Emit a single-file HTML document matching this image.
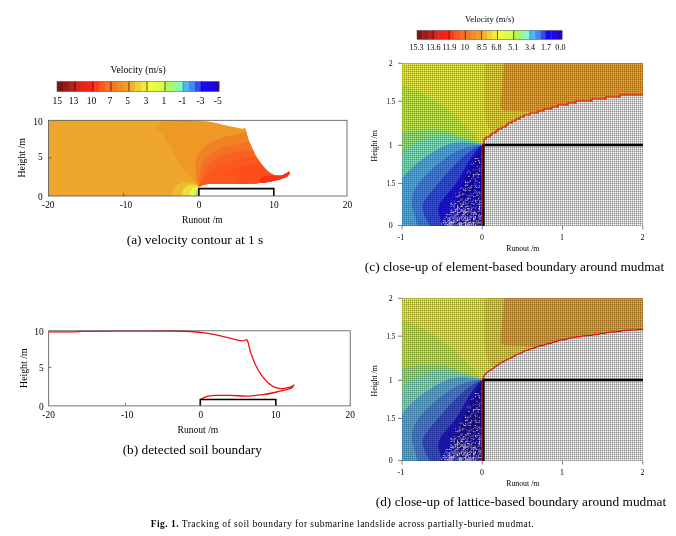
<!DOCTYPE html>
<html><head><meta charset="utf-8"><title>Fig. 1</title>
<style>
html,body{margin:0;padding:0;background:#fff;}
body{width:676px;height:536px;overflow:hidden;position:relative;}
svg{position:absolute;left:0;top:0;display:block;}
svg text{font-family:"Liberation Serif","Times New Roman",serif;fill:#000;}
</style></head><body>
<svg width="676" height="536" viewBox="0 0 676 536">
<defs>
<pattern id="grid" x="402" y="63" width="2" height="2" patternUnits="userSpaceOnUse">
<rect x="0" y="0" width="1" height="1" fill="#000" fill-opacity="0.41"/>
<rect x="1" y="0" width="1" height="1" fill="#000" fill-opacity="0.25"/>
<rect x="0" y="1" width="1" height="1" fill="#000" fill-opacity="0.25"/>
</pattern>
<pattern id="gridc" x="402" y="63" width="2" height="2" patternUnits="userSpaceOnUse">
<rect x="0" y="0" width="1" height="1" fill="#000" fill-opacity="0.35"/>
<rect x="1" y="0" width="1" height="1" fill="#000" fill-opacity="0.205"/>
<rect x="0" y="1" width="1" height="1" fill="#000" fill-opacity="0.205"/>
</pattern>
<clipPath id="clipA"><rect x="48.5" y="120.3" width="298.5" height="75.7"/></clipPath>
<clipPath id="clipC"><rect x="402" y="63" width="241" height="163"/></clipPath>
</defs>
<rect width="676" height="536" fill="#fff"/>

<g id="panelA">
<rect x="57.00" y="81.5" width="6.30" height="10.0" fill="#7e1414"/>
<rect x="63.00" y="81.5" width="6.30" height="10.0" fill="#9a1a14"/>
<rect x="69.00" y="81.5" width="6.30" height="10.0" fill="#b82018"/>
<rect x="75.00" y="81.5" width="6.30" height="10.0" fill="#d8241a"/>
<rect x="81.00" y="81.5" width="6.30" height="10.0" fill="#ec2216"/>
<rect x="87.00" y="81.5" width="6.30" height="10.0" fill="#fc2010"/>
<rect x="93.00" y="81.5" width="6.30" height="10.0" fill="#fc3c18"/>
<rect x="99.00" y="81.5" width="6.30" height="10.0" fill="#fc5a1c"/>
<rect x="105.00" y="81.5" width="6.30" height="10.0" fill="#f87020"/>
<rect x="111.00" y="81.5" width="6.30" height="10.0" fill="#f47a22"/>
<rect x="117.00" y="81.5" width="6.30" height="10.0" fill="#f48c26"/>
<rect x="123.00" y="81.5" width="6.30" height="10.0" fill="#f09c28"/>
<rect x="129.00" y="81.5" width="6.30" height="10.0" fill="#f0b030"/>
<rect x="135.00" y="81.5" width="6.30" height="10.0" fill="#f0d038"/>
<rect x="141.00" y="81.5" width="6.30" height="10.0" fill="#f4e83c"/>
<rect x="147.00" y="81.5" width="6.30" height="10.0" fill="#f4fc3c"/>
<rect x="153.00" y="81.5" width="6.30" height="10.0" fill="#e0fc40"/>
<rect x="159.00" y="81.5" width="6.30" height="10.0" fill="#d4fc48"/>
<rect x="165.00" y="81.5" width="6.30" height="10.0" fill="#b4f858"/>
<rect x="171.00" y="81.5" width="6.30" height="10.0" fill="#98f888"/>
<rect x="177.00" y="81.5" width="6.30" height="10.0" fill="#80fcc8"/>
<rect x="183.00" y="81.5" width="6.30" height="10.0" fill="#50b4f8"/>
<rect x="189.00" y="81.5" width="6.30" height="10.0" fill="#4488f8"/>
<rect x="195.00" y="81.5" width="6.30" height="10.0" fill="#3448f4"/>
<rect x="201.00" y="81.5" width="6.30" height="10.0" fill="#1808f8"/>
<rect x="207.00" y="81.5" width="6.30" height="10.0" fill="#1c04f0"/>
<rect x="213.00" y="81.5" width="6.30" height="10.0" fill="#1c08b8"/>
<line x1="75.00" y1="81.5" x2="75.00" y2="91.5" stroke="#000" stroke-width="0.7" opacity="0.9"/>
<line x1="93.00" y1="81.5" x2="93.00" y2="91.5" stroke="#000" stroke-width="0.7" opacity="0.9"/>
<line x1="111.00" y1="81.5" x2="111.00" y2="91.5" stroke="#000" stroke-width="0.7" opacity="0.9"/>
<line x1="129.00" y1="81.5" x2="129.00" y2="91.5" stroke="#000" stroke-width="0.7" opacity="0.9"/>
<line x1="147.00" y1="81.5" x2="147.00" y2="91.5" stroke="#000" stroke-width="0.7" opacity="0.9"/>
<line x1="165.00" y1="81.5" x2="165.00" y2="91.5" stroke="#000" stroke-width="0.7" opacity="0.9"/>
<line x1="183.00" y1="81.5" x2="183.00" y2="91.5" stroke="#000" stroke-width="0.7" opacity="0.4"/>
<line x1="201.00" y1="81.5" x2="201.00" y2="91.5" stroke="#000" stroke-width="0.7" opacity="0.4"/>
<rect x="57" y="81.5" width="162" height="10.0" fill="none" stroke="#444" stroke-width="0.5"/>
<text x="57.20" y="103.9" font-size="9.6" text-anchor="middle">15</text>
<text x="73.60" y="103.9" font-size="9.6" text-anchor="middle">13</text>
<text x="91.60" y="103.9" font-size="9.6" text-anchor="middle">10</text>
<text x="109.80" y="103.9" font-size="9.6" text-anchor="middle">7</text>
<text x="127.70" y="103.9" font-size="9.6" text-anchor="middle">5</text>
<text x="145.80" y="103.9" font-size="9.6" text-anchor="middle">3</text>
<text x="164.00" y="103.9" font-size="9.6" text-anchor="middle">1</text>
<text x="182.40" y="103.9" font-size="9.6" text-anchor="middle">-1</text>
<text x="200.50" y="103.9" font-size="9.6" text-anchor="middle">-3</text>
<text x="217.80" y="103.9" font-size="9.6" text-anchor="middle">-5</text>
<text x="138.2" y="72.5" font-size="9.7" text-anchor="middle">Velocity (m/s)</text>
<g clip-path="url(#clipA)">
<path d="M48.5,120.3 L150,120.35 C154.2,120.4 167.5,120.3 175.0,120.4 C182.5,120.5 189.3,120.5 195.0,120.7 C200.7,120.9 204.8,121.2 209.0,121.8 C213.2,122.4 216.7,123.5 220.0,124.2 C223.3,124.9 226.0,125.6 228.8,126.2 C231.6,126.8 234.3,127.3 236.6,127.8 C238.9,128.3 241.8,128.8 242.8,129.0 L244.7,127.7 C244.9,128.3 245.6,129.3 246.2,131.2 C246.8,133.1 247.2,136.2 248.2,139.0 C249.2,141.8 250.7,145.2 252.1,148.3 C253.5,151.4 255.0,154.6 256.8,157.6 C258.6,160.6 260.9,163.7 263.0,166.2 C265.1,168.7 267.1,170.9 269.2,172.4 C271.3,173.9 273.3,174.9 275.4,175.4 C277.5,175.9 279.7,175.8 281.6,175.4 C283.6,175.0 285.9,173.5 287.1,172.8 C288.3,172.2 288.7,171.7 289.0,171.5 L289.6,173.6 C289.1,174.2 288.4,175.9 286.3,177.0 C284.2,178.1 280.6,179.2 277.0,180.1 C273.4,181.0 269.3,181.9 264.6,182.5 C259.9,183.1 255.0,183.5 249.0,183.7 C243.0,183.9 234.8,183.8 228.8,183.8 C222.9,183.8 217.4,183.6 213.3,183.8 C209.2,184.0 206.4,184.2 204.0,184.8 C201.6,185.4 199.7,186.9 198.8,187.3 L198.8,196 L48.5,196 Z" fill="#eea62c"/>
<clipPath id="soilclip"><path d="M48.5,120.3 L150,120.35 C154.2,120.4 167.5,120.3 175.0,120.4 C182.5,120.5 189.3,120.5 195.0,120.7 C200.7,120.9 204.8,121.2 209.0,121.8 C213.2,122.4 216.7,123.5 220.0,124.2 C223.3,124.9 226.0,125.6 228.8,126.2 C231.6,126.8 234.3,127.3 236.6,127.8 C238.9,128.3 241.8,128.8 242.8,129.0 L244.7,127.7 C244.9,128.3 245.6,129.3 246.2,131.2 C246.8,133.1 247.2,136.2 248.2,139.0 C249.2,141.8 250.7,145.2 252.1,148.3 C253.5,151.4 255.0,154.6 256.8,157.6 C258.6,160.6 260.9,163.7 263.0,166.2 C265.1,168.7 267.1,170.9 269.2,172.4 C271.3,173.9 273.3,174.9 275.4,175.4 C277.5,175.9 279.7,175.8 281.6,175.4 C283.6,175.0 285.9,173.5 287.1,172.8 C288.3,172.2 288.7,171.7 289.0,171.5 L289.6,173.6 C289.1,174.2 288.4,175.9 286.3,177.0 C284.2,178.1 280.6,179.2 277.0,180.1 C273.4,181.0 269.3,181.9 264.6,182.5 C259.9,183.1 255.0,183.5 249.0,183.7 C243.0,183.9 234.8,183.8 228.8,183.8 C222.9,183.8 217.4,183.6 213.3,183.8 C209.2,184.0 206.4,184.2 204.0,184.8 C201.6,185.4 199.7,186.9 198.8,187.3 L198.8,196 L48.5,196 Z"/></clipPath>
<g clip-path="url(#soilclip)">
<path d="M159.8,119 L160.6,125.3 L155.5,128 L163.8,135.6 L166.1,141.9 L171.7,146.7 L173.3,153 L178,161 L182.8,168.9 L190.7,176.8 L198.6,187 L300,190 L300,110 Z" fill="#ee9826"/>
<path d="M198.6,187.0 C198.2,185.2 196.7,180.2 196.2,176.3 C195.7,172.4 194.9,167.7 195.4,163.8 C195.9,159.9 197.1,156.4 199.3,153.0 C201.5,149.6 205.0,146.1 208.6,143.6 C212.2,141.1 216.4,139.8 221.1,138.2 C225.8,136.6 232.5,135.3 236.6,134.3 C240.7,133.3 242.0,132.9 245.9,132.0 C249.8,131.1 257.6,129.5 260.0,129.0 L300,129 L300,190 Z" fill="#f08224"/>
<path d="M198.8,187.0 C198.9,185.2 198.7,180.2 199.3,176.3 C199.9,172.4 200.6,167.4 202.4,163.8 C204.2,160.2 207.1,157.1 210.2,154.5 C213.3,151.9 216.7,150.0 221.1,148.3 C225.5,146.6 231.9,145.4 236.6,144.4 C241.2,143.4 244.3,142.7 249.0,142.1 C253.7,141.5 262.3,141.2 265.0,141.0 L300,141 L300,190 Z" fill="#f47022"/>
<path d="M199.0,187.0 C199.4,185.5 200.2,181.2 201.6,177.8 C202.9,174.5 204.6,170.0 207.1,166.9 C209.6,163.8 212.8,161.4 216.4,159.2 C220.0,157.0 224.7,155.0 228.8,153.7 C233.0,152.4 237.3,151.9 241.3,151.4 C245.3,150.9 248.1,150.7 252.9,150.6 C257.7,150.5 267.1,150.9 270.0,151.0 L300,151 L300,190 Z" fill="#f8621e"/>
<path d="M199.2,187.0 C200.0,185.7 202.2,182.0 204.0,179.4 C205.8,176.8 207.3,173.9 210.2,171.6 C213.0,169.3 216.7,167.3 221.1,165.4 C225.5,163.5 231.9,161.3 236.6,160.0 C241.2,158.7 245.6,157.9 249.0,157.6 C252.4,157.3 253.3,158.0 256.8,158.4 C260.3,158.8 267.8,159.7 270.0,160.0 L300,160 L300,190 Z" fill="#fa581c"/>
<path d="M221.1,175.5 C223.7,174.3 231.4,170.4 236.6,168.5 C241.8,166.6 248.1,164.5 252.1,163.8 C256.1,163.2 256.9,163.9 260.7,164.6 C264.5,165.3 272.6,167.4 275.0,168.0 L300,168 L300,190 L236.6,190 L236.6,177 Z" fill="#fc4e1a"/>
<path d="M259.9,179.2 C260.4,178.8 261.7,177.4 263.0,176.8 C264.3,176.2 265.5,175.9 267.7,175.6 C269.9,175.3 272.4,175.8 276.0,175.0 C279.6,174.2 286.8,171.7 289.0,171.0 L292,176 L270,183 L259.9,183 Z" fill="#fc3016"/>
<path d="M171.5,196 C171.5,187 180,181.5 188,182 C193,182.5 197,184 198.8,186.5 L198.8,196 Z" fill="#ecbc30"/>
<path d="M181.5,196 C181.5,189 187,184.5 192,184.8 C195.5,185 198,186 198.8,187 L198.8,196 Z" fill="#f0dc38"/>
<path d="M189.5,196 C189.5,190.5 193,186.5 196,186.6 L198.8,187.5 L198.8,196 Z" fill="#f0f83c"/>
<path d="M194.3,196 C194.3,191.5 196,188 198.8,187.8 L198.8,196 Z" fill="#b8f060"/>
<path d="M196.6,196 C196.6,192 197.6,189 198.8,188.6 L198.8,196 Z" fill="#70d8c8"/>
</g></g>
<path d="M198.9,196 L198.9,188.6 L273.8,188.6 L273.8,196" fill="none" stroke="#000" stroke-width="1.55"/>
<rect x="48.5" y="120.3" width="298.5" height="75.7" fill="none" stroke="#505050" stroke-width="0.8"/>
<line x1="123.6" y1="196" x2="123.6" y2="193.2" stroke="#333" stroke-width="0.7"/>
<line x1="198.8" y1="196" x2="198.8" y2="193.2" stroke="#333" stroke-width="0.7"/>
<line x1="273.7" y1="196" x2="273.7" y2="193.2" stroke="#333" stroke-width="0.7"/>
<line x1="48.5" y1="157.8" x2="51.3" y2="157.8" stroke="#333" stroke-width="0.7"/>
<text x="48.3" y="208.2" font-size="9.4" text-anchor="middle">-20</text>
<text x="126" y="208.2" font-size="9.4" text-anchor="middle">-10</text>
<text x="199.1" y="208.2" font-size="9.4" text-anchor="middle">0</text>
<text x="274" y="208.2" font-size="9.4" text-anchor="middle">10</text>
<text x="347.5" y="208.2" font-size="9.4" text-anchor="middle">20</text>
<text x="42.6" y="125.2" font-size="9.4" text-anchor="end">10</text>
<text x="42.6" y="160.2" font-size="9.4" text-anchor="end">5</text>
<text x="42.6" y="199.7" font-size="9.4" text-anchor="end">0</text>
<text transform="translate(25.2,157.8) rotate(-90)" font-size="9.8" text-anchor="middle">Height /m</text>
<text x="202.4" y="222.6" font-size="9.6" text-anchor="middle">Runout /m</text>
<text x="195" y="244.1" font-size="13.34" text-anchor="middle">(a) velocity contour at 1 s</text>
</g>
<g id="panelB">
<path d="M48.7,331.9 C52.9,331.9 68.5,331.9 74.0,331.8 C79.5,331.7 74.3,331.4 82.0,331.3 C89.7,331.2 105.3,331.2 120.0,331.1 C134.7,331.1 158.3,330.9 170.0,331.0 C181.7,331.1 183.9,331.1 190.0,331.5 C196.1,331.9 200.9,332.3 206.3,333.1 C211.7,333.9 217.6,335.3 222.5,336.4 C227.4,337.5 232.3,338.9 235.6,339.6 C238.9,340.4 240.2,340.9 242.1,340.9 C244.0,340.9 246.0,339.9 246.8,339.7 L248.3,342.9 C248.6,344.2 249.1,347.5 250.2,351.0 C251.3,354.5 253.2,360.0 255.1,364.1 C257.0,368.2 259.4,372.3 261.6,375.4 C263.8,378.5 265.9,380.8 268.1,382.8 C270.3,384.8 272.4,386.2 274.6,387.2 C276.8,388.2 278.9,388.5 281.1,388.6 C283.3,388.7 285.7,388.1 287.6,387.7 C289.5,387.3 291.3,386.8 292.3,386.3 C293.3,385.9 293.8,384.9 293.8,385.0 C293.9,385.1 293.4,386.4 292.6,387.0 C291.9,387.6 290.9,388.3 289.3,388.9 C287.7,389.5 285.2,389.9 282.8,390.5 C280.4,391.1 277.9,391.8 274.6,392.5 C271.3,393.2 267.8,394.0 263.2,394.6 C258.6,395.2 252.4,396.0 247.0,396.1 C241.6,396.2 236.1,395.5 230.7,395.4 C225.3,395.3 218.5,395.2 214.4,395.4 C210.3,395.6 208.5,396.0 206.3,396.6 C204.1,397.2 202.0,398.8 201.2,399.2" fill="none" stroke="#f01010" stroke-width="1.3" stroke-linejoin="round"/>
<path d="M200.3,405.8 L200.3,399.5 L275.8,399.5 L275.8,405.8" fill="none" stroke="#000" stroke-width="1.6"/>
<rect x="48.7" y="330.8" width="301.5" height="75.1" fill="none" stroke="#505050" stroke-width="0.8"/>
<line x1="125.4" y1="405.8" x2="125.4" y2="403" stroke="#333" stroke-width="0.7"/>
<line x1="200.3" y1="405.8" x2="200.3" y2="403" stroke="#333" stroke-width="0.7"/>
<line x1="275.8" y1="405.8" x2="275.8" y2="403" stroke="#333" stroke-width="0.7"/>
<line x1="48.7" y1="367.3" x2="51.5" y2="367.3" stroke="#333" stroke-width="0.7"/>
<text x="48.6" y="417.8" font-size="9.4" text-anchor="middle">-20</text>
<text x="127.2" y="417.8" font-size="9.4" text-anchor="middle">-10</text>
<text x="200.9" y="417.8" font-size="9.4" text-anchor="middle">0</text>
<text x="275.7" y="417.8" font-size="9.4" text-anchor="middle">10</text>
<text x="350.3" y="417.8" font-size="9.4" text-anchor="middle">20</text>
<text x="43.6" y="334.7" font-size="9.4" text-anchor="end">10</text>
<text x="43.6" y="370.5" font-size="9.4" text-anchor="end">5</text>
<text x="43.6" y="409.6" font-size="9.4" text-anchor="end">0</text>
<text transform="translate(26.5,368.2) rotate(-90)" font-size="9.8" text-anchor="middle">Height /m</text>
<text x="197.9" y="433.1" font-size="9.6" text-anchor="middle">Runout /m</text>
<text x="192.3" y="454.4" font-size="13.3" text-anchor="middle">(b) detected soil boundary</text>
</g>
<rect x="417.00" y="30.5" width="5.67" height="8.899999999999999" fill="#7e1414"/>
<rect x="422.37" y="30.5" width="5.67" height="8.899999999999999" fill="#9a1a14"/>
<rect x="427.74" y="30.5" width="5.67" height="8.899999999999999" fill="#b82018"/>
<rect x="433.11" y="30.5" width="5.67" height="8.899999999999999" fill="#d8241a"/>
<rect x="438.48" y="30.5" width="5.67" height="8.899999999999999" fill="#ec2216"/>
<rect x="443.85" y="30.5" width="5.67" height="8.899999999999999" fill="#fc2010"/>
<rect x="449.22" y="30.5" width="5.67" height="8.899999999999999" fill="#fc3c18"/>
<rect x="454.59" y="30.5" width="5.67" height="8.899999999999999" fill="#fc5a1c"/>
<rect x="459.96" y="30.5" width="5.67" height="8.899999999999999" fill="#f87020"/>
<rect x="465.33" y="30.5" width="5.67" height="8.899999999999999" fill="#f47a22"/>
<rect x="470.70" y="30.5" width="5.67" height="8.899999999999999" fill="#f48c26"/>
<rect x="476.07" y="30.5" width="5.67" height="8.899999999999999" fill="#f09c28"/>
<rect x="481.44" y="30.5" width="5.67" height="8.899999999999999" fill="#f0b030"/>
<rect x="486.81" y="30.5" width="5.67" height="8.899999999999999" fill="#f0d038"/>
<rect x="492.19" y="30.5" width="5.67" height="8.899999999999999" fill="#f4e83c"/>
<rect x="497.56" y="30.5" width="5.67" height="8.899999999999999" fill="#f4fc3c"/>
<rect x="502.93" y="30.5" width="5.67" height="8.899999999999999" fill="#e0fc40"/>
<rect x="508.30" y="30.5" width="5.67" height="8.899999999999999" fill="#d4fc48"/>
<rect x="513.67" y="30.5" width="5.67" height="8.899999999999999" fill="#b4f858"/>
<rect x="519.04" y="30.5" width="5.67" height="8.899999999999999" fill="#98f888"/>
<rect x="524.41" y="30.5" width="5.67" height="8.899999999999999" fill="#80fcc8"/>
<rect x="529.78" y="30.5" width="5.67" height="8.899999999999999" fill="#50b4f8"/>
<rect x="535.15" y="30.5" width="5.67" height="8.899999999999999" fill="#4488f8"/>
<rect x="540.52" y="30.5" width="5.67" height="8.899999999999999" fill="#3448f4"/>
<rect x="545.89" y="30.5" width="5.67" height="8.899999999999999" fill="#1808f8"/>
<rect x="551.26" y="30.5" width="5.67" height="8.899999999999999" fill="#1c04f0"/>
<rect x="556.63" y="30.5" width="5.67" height="8.899999999999999" fill="#1c08b8"/>
<line x1="433.11" y1="30.5" x2="433.11" y2="39.4" stroke="#000" stroke-width="0.7" opacity="0.9"/>
<line x1="449.22" y1="30.5" x2="449.22" y2="39.4" stroke="#000" stroke-width="0.7" opacity="0.9"/>
<line x1="465.33" y1="30.5" x2="465.33" y2="39.4" stroke="#000" stroke-width="0.7" opacity="0.9"/>
<line x1="481.44" y1="30.5" x2="481.44" y2="39.4" stroke="#000" stroke-width="0.7" opacity="0.9"/>
<line x1="497.56" y1="30.5" x2="497.56" y2="39.4" stroke="#000" stroke-width="0.7" opacity="0.9"/>
<line x1="513.67" y1="30.5" x2="513.67" y2="39.4" stroke="#000" stroke-width="0.7" opacity="0.9"/>
<line x1="529.78" y1="30.5" x2="529.78" y2="39.4" stroke="#000" stroke-width="0.7" opacity="0.4"/>
<line x1="545.89" y1="30.5" x2="545.89" y2="39.4" stroke="#000" stroke-width="0.7" opacity="0.4"/>
<rect x="417" y="30.5" width="145" height="8.899999999999999" fill="none" stroke="#444" stroke-width="0.5"/>
<text x="416.60" y="50" font-size="8.9" text-anchor="middle" textLength="14.11" lengthAdjust="spacingAndGlyphs">15.3</text>
<text x="433.40" y="50" font-size="8.9" text-anchor="middle" textLength="14.11" lengthAdjust="spacingAndGlyphs">13.6</text>
<text x="449.30" y="50" font-size="8.9" text-anchor="middle" textLength="14.11" lengthAdjust="spacingAndGlyphs">11.9</text>
<text x="464.90" y="50" font-size="8.9" text-anchor="middle" textLength="8.06" lengthAdjust="spacingAndGlyphs">10</text>
<text x="482.00" y="50" font-size="8.9" text-anchor="middle" textLength="10.08" lengthAdjust="spacingAndGlyphs">8.5</text>
<text x="496.60" y="50" font-size="8.9" text-anchor="middle" textLength="10.08" lengthAdjust="spacingAndGlyphs">6.8</text>
<text x="513.40" y="50" font-size="8.9" text-anchor="middle" textLength="10.08" lengthAdjust="spacingAndGlyphs">5.1</text>
<text x="530.00" y="50" font-size="8.9" text-anchor="middle" textLength="10.08" lengthAdjust="spacingAndGlyphs">3.4</text>
<text x="546.10" y="50" font-size="8.9" text-anchor="middle" textLength="10.08" lengthAdjust="spacingAndGlyphs">1.7</text>
<text x="560.40" y="50" font-size="8.9" text-anchor="middle" textLength="10.08" lengthAdjust="spacingAndGlyphs">0.0</text>
<text x="489.6" y="22" font-size="8.65" text-anchor="middle">Velocity (m/s)</text>
<g id="pc" transform="translate(0,0)">
<clipPath id="regpc"><path d="M482.5,145.0 L484.0,145.0 L484.0,139.0 L486.0,139.0 L486.0,137.0 L490.0,137.0 L490.0,135.0 L492.0,135.0 L492.0,133.0 L496.0,133.0 L496.0,131.0 L498.0,131.0 L498.0,129.0 L502.0,129.0 L502.0,127.0 L506.0,127.0 L506.0,125.0 L508.0,125.0 L508.0,123.0 L512.0,123.0 L512.0,121.0 L516.0,121.0 L516.0,119.0 L520.0,119.0 L520.0,117.0 L524.0,117.0 L524.0,115.0 L530.0,115.0 L530.0,113.0 L538.0,113.0 L538.0,111.0 L544.0,111.0 L544.0,109.0 L552.0,109.0 L552.0,107.0 L558.0,107.0 L558.0,105.0 L568.0,105.0 L568.0,103.0 L576.0,103.0 L576.0,101.0 L592.0,101.0 L592.0,99.0 L606.0,99.0 L606.0,97.0 L620.0,97.0 L620.0,95.0 L643.0,95.0 L643,63 L402,63 L402,226 L482.5,226 Z"/></clipPath>
<g clip-path="url(#clipC)">
<rect x="402" y="63" width="241" height="163" fill="url(#grid)"/>
<g clip-path="url(#regpc)">
<rect x="402" y="63" width="241" height="163" fill="#f5aa2e"/>
<path d="M402,63 L503.8,63 L502,90 L500.4,106 Q500.6,110 506,110.5 L545,112 L545,150 L402,150 Z" fill="#f0dc34"/>
<path d="M402,63 L485,63 L484.6,100 Q484.5,118 487,124 Q490,131 497,134 L482.6,146 L402,146 Z" fill="#f4f838"/>
<path d="M402.0,85.4 C406.3,87.2 419.2,91.8 427.7,96.5 C436.2,101.2 445.7,107.8 453.1,113.9 C460.5,120.0 467.2,127.8 472.1,133.0 C477.0,138.2 480.9,143.0 482.6,145.0 L482.6,226 L402,226 L402,85.4 Z" fill="#ccf844" stroke="#ccf844" stroke-width="0.5" stroke-linejoin="round"/>
<path d="M402.0,133.0 C406.3,132.5 420.2,130.2 427.7,130.0 C435.1,129.8 440.3,130.1 446.7,131.5 C453.1,132.9 459.8,136.4 465.8,138.7 C471.8,140.9 479.8,143.9 482.6,145.0 L482.6,226 L402,226 L402,133 Z" fill="#9cf47c" stroke="#9cf47c" stroke-width="0.5" stroke-linejoin="round"/>
<path d="M402.0,154.0 C403.3,152.8 406.2,148.9 410.0,146.5 C413.8,144.1 419.5,141.3 425.0,139.5 C430.5,137.7 437.3,135.7 443.0,135.5 C448.7,135.3 454.0,137.1 459.4,138.3 C464.8,139.5 471.4,141.4 475.3,142.5 C479.2,143.6 481.4,144.6 482.6,145.0 L482.6,226 L402,226 L402,154 Z" fill="#7cf0c4" stroke="#7cf0c4" stroke-width="0.5" stroke-linejoin="round"/>
<path d="M402.0,179.0 C403.2,177.6 406.2,173.5 409.4,170.4 C412.6,167.3 416.4,163.8 421.2,160.3 C426.0,156.8 432.9,152.2 438.0,149.4 C443.1,146.6 447.3,144.6 452.0,143.5 C456.7,142.4 462.0,142.7 466.0,142.8 C470.0,142.9 473.2,143.6 476.0,144.0 C478.8,144.4 481.5,144.8 482.6,145.0 L482.6,226 L402,226 L402,179 Z" fill="#54b8f4" stroke="#54b8f4" stroke-width="0.5" stroke-linejoin="round"/>
<path d="M418.0,226.0 C417.3,223.7 415.0,215.8 414.0,212.0 C413.0,208.2 412.0,206.3 412.0,203.0 C412.0,199.7 412.5,195.8 414.0,192.0 C415.5,188.2 418.0,184.4 421.2,180.5 C424.4,176.6 428.8,172.5 433.0,168.7 C437.2,164.9 442.2,160.8 446.4,157.8 C450.6,154.9 454.1,152.8 458.0,151.0 C461.9,149.2 466.7,147.9 470.0,147.0 C473.3,146.1 475.9,145.8 478.0,145.5 C480.1,145.2 481.8,145.1 482.6,145.0 L482.6,226 Z" fill="#4488f4" stroke="#4488f4" stroke-width="0.5" stroke-linejoin="round"/>
<path d="M430.0,226.0 C429.0,223.8 425.2,216.7 424.0,213.0 C422.8,209.3 422.1,207.2 423.0,204.0 C423.9,200.8 426.8,197.7 429.6,194.0 C432.4,190.3 436.4,185.9 439.7,182.0 C443.0,178.1 446.6,173.7 449.7,170.4 C452.8,167.1 455.1,164.7 458.0,162.0 C460.9,159.3 464.0,156.3 467.0,154.0 C470.0,151.7 473.4,149.5 476.0,148.0 C478.6,146.5 481.5,145.5 482.6,145.0 L482.6,226 Z" fill="#3450f0" stroke="#3450f0" stroke-width="0.5" stroke-linejoin="round"/>
<path d="M443.0,226.0 C442.3,223.8 439.5,216.7 439.0,213.0 C438.5,209.3 438.8,206.9 440.0,204.0 C441.2,201.1 443.7,199.0 446.4,195.6 C449.1,192.2 453.2,187.7 456.0,183.8 C458.8,179.9 460.7,176.0 463.0,172.0 C465.3,168.0 467.5,163.8 470.0,160.0 C472.5,156.2 475.9,151.5 478.0,149.0 C480.1,146.5 481.8,145.7 482.6,145.0 L482.6,226 Z" fill="#1c14f0" stroke="#1c14f0" stroke-width="0.5" stroke-linejoin="round"/>
<path d="M456.0,226.0 C455.8,223.7 454.8,216.3 455.0,212.0 C455.2,207.7 456.0,204.0 457.0,200.0 C458.0,196.0 459.2,192.3 461.0,188.0 C462.8,183.7 465.1,178.8 467.5,174.0 C469.9,169.2 473.0,163.1 475.2,159.0 C477.4,154.9 479.3,151.8 480.5,149.5 C481.7,147.2 482.2,145.8 482.6,145.0 L482.6,226 Z" fill="#1808c0" stroke="#1808c0" stroke-width="0.5" stroke-linejoin="round"/>
<rect x="459" y="223" width="3" height="3" fill="#60e090"/>
<path d="M480.9,156.2h1.2v1.0h-1.2zM474.9,158.3h1.1v0.9h-1.1zM475.9,158.0h0.7v0.8h-0.7zM477.5,158.0h1.0v1.0h-1.0zM478.1,159.9h1.2v1.0h-1.2zM474.8,161.1h1.2v0.9h-1.2zM479.2,161.4h1.0v1.1h-1.0zM473.1,163.0h0.9v0.7h-0.9zM479.2,162.6h0.7v1.0h-0.7zM481.0,162.8h0.8v1.0h-0.8zM471.5,164.2h1.0v0.8h-1.0zM476.5,165.8h0.9v1.0h-0.9zM480.8,166.0h0.8v0.9h-0.8zM479.2,167.8h1.2v0.8h-1.2zM481.1,167.9h0.8v1.1h-0.8zM472.7,169.5h0.8v1.0h-0.8zM474.8,169.3h0.9v0.8h-0.9zM477.6,169.2h1.2v0.9h-1.2zM467.9,170.7h1.0v0.7h-1.0zM469.7,170.8h0.8v0.8h-0.8zM479.1,170.5h1.2v1.0h-1.2zM466.7,172.4h1.1v0.8h-1.1zM469.8,172.5h1.2v1.0h-1.2zM476.3,172.6h1.2v0.9h-1.2zM473.1,174.3h1.2v1.0h-1.2zM474.7,174.0h1.0v1.0h-1.0zM476.4,173.7h1.1v0.9h-1.1zM477.9,174.0h1.1v1.1h-1.1zM479.1,173.9h1.1v0.8h-1.1zM481.2,174.1h1.0v1.1h-1.0zM468.2,175.8h1.2v1.1h-1.2zM472.8,175.6h1.2v1.0h-1.2zM477.6,175.6h0.9v0.8h-0.9zM472.7,177.4h0.7v1.0h-0.7zM476.4,176.9h0.8v0.9h-0.8zM478.0,177.0h0.8v0.7h-0.8zM471.4,178.6h0.7v0.9h-0.7zM474.5,178.7h1.1v0.9h-1.1zM465.3,180.5h0.8v0.9h-0.8zM469.8,180.6h1.2v1.1h-1.2zM474.7,180.6h1.1v1.0h-1.1zM476.4,180.7h1.3v0.9h-1.3zM465.0,182.0h1.2v0.9h-1.2zM466.8,181.7h1.2v0.8h-1.2zM468.4,181.8h0.8v0.9h-0.8zM479.2,182.0h0.9v1.0h-0.9zM466.5,183.8h1.2v0.8h-1.2zM474.6,183.6h1.1v0.7h-1.1zM465.0,185.1h1.3v1.1h-1.3zM466.6,185.0h1.0v1.0h-1.0zM471.2,185.3h1.3v0.8h-1.3zM474.4,185.0h1.1v0.8h-1.1zM476.3,185.0h1.1v0.7h-1.1zM479.2,185.2h1.0v0.9h-1.0zM461.6,186.9h1.1v0.9h-1.1zM468.3,187.0h1.2v0.8h-1.2zM470.1,186.6h1.3v1.1h-1.3zM471.2,186.9h0.9v0.7h-0.9zM474.8,186.6h0.9v1.0h-0.9zM476.0,186.9h1.2v1.1h-1.2zM477.8,187.0h1.0v1.0h-1.0zM479.1,186.6h0.7v0.9h-0.7zM460.0,188.2h1.2v1.1h-1.2zM463.1,188.7h1.0v1.0h-1.0zM465.0,188.4h1.0v0.9h-1.0zM466.7,188.6h0.8v0.9h-0.8zM469.6,188.2h1.0v0.7h-1.0zM463.6,190.1h1.2v1.0h-1.2zM465.2,190.2h1.1v1.0h-1.1zM468.3,189.7h0.9v0.9h-0.9zM469.7,190.1h1.1v0.8h-1.1zM474.7,190.0h1.0v0.9h-1.0zM458.7,191.7h0.9v0.9h-0.9zM460.0,191.5h0.8v0.8h-0.8zM474.7,191.8h0.7v1.1h-0.7zM476.2,191.4h1.0v0.9h-1.0zM478.1,191.6h1.0v0.9h-1.0zM479.3,191.7h1.0v0.8h-1.0zM455.1,193.0h0.7v0.8h-0.7zM458.8,193.3h0.7v1.1h-0.7zM462.0,193.2h1.0v1.1h-1.0zM463.4,193.5h1.1v0.9h-1.1zM469.9,193.2h0.8v0.7h-0.8zM473.0,193.3h1.0v0.8h-1.0zM476.4,193.2h1.3v1.1h-1.3zM479.2,193.4h1.2v0.9h-1.2zM480.9,193.3h1.0v0.9h-1.0zM458.4,195.1h1.2v1.1h-1.2zM459.9,194.7h1.0v0.9h-1.0zM461.8,194.5h0.8v1.0h-0.8zM466.6,194.6h0.9v1.0h-0.9zM469.6,195.0h1.1v1.0h-1.1zM471.4,194.7h1.2v0.8h-1.2zM476.2,194.9h1.3v0.9h-1.3zM477.6,195.0h0.7v0.7h-0.7zM455.6,196.1h0.8v1.0h-0.8zM456.9,196.5h1.1v0.8h-1.1zM458.5,196.5h0.9v0.7h-0.9zM468.4,196.3h0.9v0.9h-0.9zM472.9,196.3h0.9v0.9h-0.9zM474.4,196.4h1.2v0.9h-1.2zM479.6,196.6h0.9v0.7h-0.9zM461.8,198.2h0.8v0.7h-0.8zM466.7,197.8h1.1v1.0h-1.1zM468.0,198.2h1.0v1.0h-1.0zM469.7,198.3h1.1v0.9h-1.1zM478.0,198.1h1.2v1.0h-1.2zM460.2,199.4h1.1v1.1h-1.1zM461.6,199.4h1.0v0.8h-1.0zM464.9,199.4h1.1v1.0h-1.1zM466.3,199.6h1.1v1.1h-1.1zM468.0,199.4h0.8v0.8h-0.8zM472.8,199.5h0.8v1.0h-0.8zM474.6,199.8h1.0v0.8h-1.0zM479.4,199.9h1.0v0.8h-1.0zM481.3,199.8h0.9v0.9h-0.9zM454.1,201.3h0.8v0.7h-0.8zM457.2,201.3h1.1v0.8h-1.1zM458.5,201.1h1.2v0.9h-1.2zM463.4,201.0h1.2v0.7h-1.2zM469.7,201.3h0.8v0.9h-0.8zM471.7,201.3h1.2v0.8h-1.2zM474.9,201.0h1.2v0.8h-1.2zM479.6,201.1h0.9v0.7h-0.9zM481.0,201.3h0.9v1.0h-0.9zM450.5,202.8h1.3v1.0h-1.3zM453.7,202.9h0.8v0.9h-0.8zM455.1,203.1h1.2v0.8h-1.2zM458.5,202.8h0.9v0.8h-0.9zM460.3,202.7h0.8v1.0h-0.8zM462.1,202.8h1.1v0.8h-1.1zM464.8,202.6h1.1v1.0h-1.1zM466.5,203.0h1.1v0.7h-1.1zM468.0,202.6h0.9v0.7h-0.9zM471.4,202.9h1.2v1.0h-1.2zM472.9,202.7h0.7v0.9h-0.7zM450.5,204.3h1.1v0.7h-1.1zM452.2,204.6h1.2v0.9h-1.2zM454.0,204.6h1.0v0.8h-1.0zM457.1,204.7h1.0v1.0h-1.0zM460.5,204.5h0.8v0.7h-0.8zM461.8,204.5h0.9v1.1h-0.9zM463.4,204.2h1.3v0.8h-1.3zM466.6,204.4h0.9v1.1h-0.9zM473.2,204.3h1.2v0.8h-1.2zM477.8,204.1h0.7v0.8h-0.7zM450.7,206.1h0.9v0.9h-0.9zM453.6,206.0h0.8v0.9h-0.8zM457.0,205.9h1.0v0.8h-1.0zM460.3,205.8h1.3v0.9h-1.3zM461.7,206.1h1.1v1.0h-1.1zM465.3,206.2h1.2v0.9h-1.2zM466.6,206.2h1.0v0.9h-1.0zM468.4,205.9h0.7v1.0h-0.7zM476.3,205.7h0.8v0.9h-0.8zM479.1,206.1h1.0v0.8h-1.0zM480.9,205.8h0.7v1.1h-0.7zM454.0,207.4h1.1v0.9h-1.1zM457.2,207.4h1.0v1.1h-1.0zM458.4,207.5h0.9v0.7h-0.9zM463.3,207.7h0.7v0.7h-0.7zM466.6,207.9h1.3v0.9h-1.3zM468.1,207.9h1.2v0.8h-1.2zM471.4,207.4h1.2v1.1h-1.2zM473.1,207.4h1.2v0.7h-1.2zM474.7,207.5h1.2v1.0h-1.2zM477.9,207.9h1.0v0.7h-1.0zM479.3,207.7h0.8v0.8h-0.8zM481.1,207.8h0.9v1.0h-0.9zM450.5,209.5h1.1v0.8h-1.1zM454.1,209.2h1.0v0.9h-1.0zM455.5,209.1h0.9v1.0h-0.9zM456.9,209.4h0.8v0.8h-0.8zM458.4,209.4h1.3v0.7h-1.3zM460.4,209.1h1.3v0.9h-1.3zM461.8,209.3h0.9v1.0h-0.9zM465.0,209.4h1.1v0.9h-1.1zM468.4,209.0h1.1v0.8h-1.1zM470.0,209.4h1.2v0.8h-1.2zM471.2,209.2h1.0v0.7h-1.0zM479.2,208.9h1.0v0.9h-1.0zM480.9,209.4h0.7v1.1h-0.7zM452.0,210.7h0.7v0.8h-0.7zM455.3,210.9h0.8v1.0h-0.8zM456.9,210.6h1.1v1.0h-1.1zM460.1,210.7h0.8v1.1h-0.8zM461.8,211.0h1.3v0.8h-1.3zM463.5,210.5h0.8v1.1h-0.8zM464.9,210.7h1.0v0.7h-1.0zM466.9,211.0h1.1v0.8h-1.1zM468.2,210.6h1.0v1.1h-1.0zM469.7,211.1h1.1v0.7h-1.1zM471.5,210.5h0.9v1.0h-0.9zM477.7,211.0h0.9v1.0h-0.9zM479.3,210.6h1.0v0.8h-1.0zM480.8,210.8h0.9v0.9h-0.9zM450.5,212.1h1.1v0.8h-1.1zM451.9,212.2h0.9v0.9h-0.9zM456.9,212.2h1.3v0.8h-1.3zM463.3,212.3h0.7v1.1h-0.7zM465.2,212.4h0.7v0.9h-0.7zM466.3,212.2h1.1v0.7h-1.1zM468.2,212.4h0.8v1.0h-0.8zM469.9,212.5h0.8v0.8h-0.8zM471.5,212.3h0.9v1.0h-0.9zM472.9,212.3h0.8v0.7h-0.8zM474.7,212.4h1.2v1.1h-1.2zM476.3,212.7h0.8v1.0h-0.8zM445.9,213.8h1.0v0.9h-1.0zM447.3,213.9h1.0v0.8h-1.0zM448.9,214.0h0.8v1.0h-0.8zM450.4,213.9h1.0v0.8h-1.0zM455.5,213.7h0.9v0.8h-0.9zM456.9,213.7h1.0v0.9h-1.0zM458.5,213.9h0.7v0.8h-0.7zM461.7,214.1h0.8v0.9h-0.8zM463.7,213.9h1.0v1.1h-1.0zM466.7,213.9h0.9v0.8h-0.9zM471.6,213.7h0.8v0.9h-0.8zM472.9,214.3h0.8v0.8h-0.8zM474.7,213.8h0.7v0.9h-0.7zM476.0,214.0h1.1v0.9h-1.1zM445.7,215.8h0.9v1.0h-0.9zM453.9,215.6h1.0v0.8h-1.0zM455.5,215.6h0.8v0.8h-0.8zM456.8,215.6h0.8v0.7h-0.8zM458.4,215.7h0.8v0.9h-0.8zM461.6,215.8h1.2v0.7h-1.2zM463.4,215.8h0.9v1.0h-0.9zM465.1,215.5h0.9v1.0h-0.9zM469.8,215.7h1.1v1.0h-1.1zM472.9,215.7h0.8v0.8h-0.8zM474.7,215.9h1.3v0.8h-1.3zM477.9,215.5h1.3v1.1h-1.3zM479.5,215.4h0.7v0.8h-0.7zM445.7,216.9h1.0v0.9h-1.0zM447.3,217.4h1.2v0.8h-1.2zM449.1,217.4h1.3v0.9h-1.3zM452.4,217.0h0.8v0.7h-0.8zM455.4,217.0h0.9v0.7h-0.9zM456.8,217.3h0.9v0.8h-0.9zM458.5,217.1h0.7v0.7h-0.7zM461.5,217.0h1.0v1.1h-1.0zM463.6,217.2h0.9v1.0h-0.9zM464.7,217.2h1.1v0.9h-1.1zM466.9,217.4h1.3v0.9h-1.3zM471.1,217.0h0.8v0.7h-0.8zM473.2,217.1h1.0v0.7h-1.0zM474.9,216.9h1.0v1.0h-1.0zM479.6,217.4h1.2v1.1h-1.2zM481.3,217.1h1.1v0.8h-1.1zM444.2,218.6h0.9v0.8h-0.9zM449.1,218.7h0.9v1.1h-0.9zM450.4,218.7h1.1v0.8h-1.1zM453.9,218.6h0.8v0.8h-0.8zM455.4,218.5h1.0v0.9h-1.0zM457.0,219.1h0.8v1.1h-0.8zM458.8,218.6h1.3v0.9h-1.3zM461.7,218.9h0.8v0.8h-0.8zM463.7,218.7h0.8v0.8h-0.8zM466.7,218.7h1.1v0.8h-1.1zM468.4,219.0h1.1v0.9h-1.1zM469.6,219.0h1.1v0.9h-1.1zM472.9,218.6h1.1v0.9h-1.1zM474.3,218.9h1.0v0.9h-1.0zM479.4,219.1h1.1v0.8h-1.1zM442.8,220.2h1.3v0.9h-1.3zM444.4,220.5h1.3v1.0h-1.3zM447.7,220.1h1.2v1.0h-1.2zM449.2,220.4h1.0v1.0h-1.0zM450.5,220.5h0.7v0.9h-0.7zM453.6,220.6h1.2v1.0h-1.2zM455.6,220.6h0.8v0.8h-0.8zM456.7,220.3h1.2v1.0h-1.2zM458.4,220.3h1.2v0.9h-1.2zM462.1,220.2h1.1v1.1h-1.1zM465.1,220.4h0.7v0.8h-0.7zM466.7,220.3h1.1v1.0h-1.1zM468.0,220.5h1.0v0.8h-1.0zM470.1,220.5h0.9v0.8h-0.9zM476.1,220.3h0.8v1.0h-0.8zM478.0,220.3h1.0v0.9h-1.0zM481.1,220.2h1.0v0.8h-1.0zM442.8,222.1h1.0v1.1h-1.0zM444.3,222.1h1.0v0.7h-1.0zM445.7,222.0h1.3v0.8h-1.3zM450.5,221.8h1.2v0.8h-1.2zM452.1,222.2h1.2v0.9h-1.2zM453.6,222.2h0.8v0.8h-0.8zM455.5,222.1h0.9v1.1h-0.9zM458.7,222.0h0.9v0.9h-0.9zM460.3,222.1h1.3v1.1h-1.3zM463.6,222.1h1.1v1.1h-1.1zM465.0,221.9h1.1v0.8h-1.1zM468.1,221.8h0.9v1.0h-0.9zM469.6,222.1h1.1v1.0h-1.1zM471.6,222.1h1.2v0.7h-1.2zM472.7,222.2h1.3v1.1h-1.3zM474.5,222.0h1.0v0.7h-1.0zM477.8,221.8h1.0v0.8h-1.0zM479.4,221.9h1.2v0.8h-1.2zM480.7,221.8h1.0v0.9h-1.0zM441.2,223.4h1.2v0.8h-1.2zM444.1,223.7h1.2v1.1h-1.2zM445.5,223.4h1.2v1.0h-1.2zM449.0,223.3h0.8v0.8h-0.8zM452.4,223.3h0.9v0.7h-0.9zM453.6,223.9h0.9v0.9h-0.9zM455.6,223.9h1.0v0.9h-1.0zM458.5,223.7h0.9v0.8h-0.9zM460.2,223.5h1.0v0.9h-1.0zM462.0,223.3h1.0v0.9h-1.0zM463.2,223.4h0.9v0.8h-0.9zM464.8,223.7h1.0v0.7h-1.0zM466.9,223.3h1.1v1.1h-1.1zM468.3,223.5h0.9v0.9h-0.9zM469.7,223.6h1.0v1.0h-1.0zM471.2,223.5h0.9v1.0h-0.9zM473.2,223.5h0.9v1.0h-0.9zM474.9,223.8h0.9v0.8h-0.9zM481.2,223.3h1.1v0.9h-1.1zM444.5,225.4h1.0v0.7h-1.0zM447.5,225.5h1.3v0.7h-1.3zM450.8,225.1h1.0v0.9h-1.0zM452.1,225.3h0.7v0.7h-0.7zM455.4,225.0h0.8v0.8h-0.8zM458.9,225.0h0.9v0.9h-0.9zM462.0,225.2h0.7v0.9h-0.7zM463.5,225.5h1.0v1.0h-1.0zM465.2,225.0h1.1v0.8h-1.1zM466.4,225.1h0.8v0.8h-0.8zM468.2,225.1h1.0v1.0h-1.0zM469.9,225.2h1.3v0.8h-1.3zM472.9,225.3h1.0v0.8h-1.0zM474.8,225.1h1.1v0.9h-1.1zM478.1,225.4h1.0v0.9h-1.0zM479.6,225.0h0.9v1.0h-0.9zM481.1,225.2h1.0v0.8h-1.0z" fill="#fff" opacity="0.92"/>
<path d="M449.8,225.4l1.4,-2.8M448.7,223.0l1.7,-0.8M464.7,220.3l2.9,-1.0M465.5,224.7l0.7,-2.8M457.5,225.4l1.0,-1.8M475.5,222.2l1.7,-1.0M447.6,219.1l1.8,-1.0M458.5,209.4l1.5,-1.4M458.1,213.7l2.2,-2.4M450.5,224.1l0.9,-2.6M464.6,222.3l1.9,-2.1M477.7,222.9l1.4,-0.8M478.5,215.7l0.8,-1.8M462.9,215.8l1.6,-3.0M463.8,219.6l1.6,-1.1M479.0,208.6l0.7,-2.7M447.1,224.7l2.5,-0.8M448.4,225.9l2.7,-1.8M448.1,221.2l1.5,-0.4M464.9,225.8l1.7,-2.7M473.3,218.8l2.4,-0.7M453.2,218.9l2.0,-1.5M452.6,221.8l1.9,-1.6M449.9,218.1l2.2,-2.6M467.6,209.5l1.8,-1.2M469.7,225.2l0.7,-3.3M477.8,224.1l0.4,-1.5M463.2,220.0l1.4,-2.3M466.5,225.1l2.4,-0.8M479.4,204.6l3.1,-1.1M479.3,204.0l3.1,-0.7M470.1,218.7l1.9,-2.4M475.5,200.7l3.0,-0.9M479.6,223.7l1.7,-1.4M463.0,203.2l0.9,-1.8M466.6,218.9l2.3,-1.6M463.7,212.6l0.6,-1.8M454.1,213.1l2.2,-2.1M459.9,212.7l1.1,-1.7M465.7,213.1l0.6,-1.8M456.3,214.3l2.4,-1.7M469.0,223.1l1.1,-1.2M473.2,212.9l2.1,-1.0M480.2,215.8l2.7,-2.0M480.2,216.2l2.9,-1.1M473.6,215.1l0.9,-2.1M456.3,220.0l1.1,-2.2M475.6,203.1l1.6,-1.6M446.8,224.9l1.8,-0.7M476.1,225.5l0.5,-2.1M478.4,209.8l1.7,-3.0M456.7,209.6l1.7,-2.8M470.6,225.3l1.7,-1.5M453.0,213.6l0.4,-1.6M454.4,215.3l2.0,-0.5M456.5,209.1l1.7,-1.9M465.3,222.7l2.3,-2.5M452.3,212.3l2.0,-0.6M471.9,225.0l1.3,-1.3M457.9,219.6l2.6,-1.6M479.6,217.6l1.9,-2.5M464.3,211.4l0.8,-3.4M446.3,222.7l1.2,-1.0M455.3,210.8l0.9,-1.7M450.5,212.2l1.0,-2.3M469.0,217.7l1.4,-0.6M461.2,205.3l2.4,-1.3M459.7,217.9l1.2,-1.7M457.4,224.4l1.5,-1.8M465.3,217.6l2.7,-1.9M452.8,225.2l1.1,-3.1M452.6,218.5l0.4,-2.0M451.6,222.1l2.4,-1.2M450.0,225.3l1.5,-0.9M470.5,215.3l1.6,-1.9M477.9,218.6l1.2,-0.9M464.8,213.5l1.7,-2.1M465.0,207.8l1.7,-1.8M467.5,225.6l2.1,-1.2M448.2,223.3l2.8,-1.5M474.2,213.1l0.7,-2.4M461.2,219.4l0.6,-2.4M464.2,214.0l0.9,-2.3M460.5,211.5l2.8,-1.4M473.4,225.7l0.8,-2.8M473.5,221.9l1.2,-2.9M451.3,223.5l1.7,-1.1M478.3,203.9l1.5,-1.6M473.4,220.3l0.9,-3.2M470.4,206.6l0.9,-1.4" stroke="#fff" stroke-width="0.6" fill="none" stroke-linecap="round" opacity="0.85"/>
<rect x="402" y="63" width="241" height="163" fill="url(#gridc)"/>
</g>
<path d="M483.4,226 L483.4,144.9 L643,144.9" fill="none" stroke="#000" stroke-width="2.5" stroke-linejoin="miter"/>
<path d="M481.9,226 L481.9,146 L482.5,145.0 L484.0,145.0 L484.0,139.0 L486.0,139.0 L486.0,137.0 L490.0,137.0 L490.0,135.0 L492.0,135.0 L492.0,133.0 L496.0,133.0 L496.0,131.0 L498.0,131.0 L498.0,129.0 L502.0,129.0 L502.0,127.0 L506.0,127.0 L506.0,125.0 L508.0,125.0 L508.0,123.0 L512.0,123.0 L512.0,121.0 L516.0,121.0 L516.0,119.0 L520.0,119.0 L520.0,117.0 L524.0,117.0 L524.0,115.0 L530.0,115.0 L530.0,113.0 L538.0,113.0 L538.0,111.0 L544.0,111.0 L544.0,109.0 L552.0,109.0 L552.0,107.0 L558.0,107.0 L558.0,105.0 L568.0,105.0 L568.0,103.0 L576.0,103.0 L576.0,101.0 L592.0,101.0 L592.0,99.0 L606.0,99.0 L606.0,97.0 L620.0,97.0 L620.0,95.0 L643.0,95.0" fill="none" stroke="#e00c0c" stroke-width="1.2" stroke-linejoin="miter"/>
</g>
<line x1="398" y1="63.2" x2="402" y2="63.2" stroke="#444" stroke-width="0.7"/>
<text x="390.8" y="66.0" font-size="7.9" text-anchor="middle">2</text>
<line x1="398" y1="101.2" x2="402" y2="101.2" stroke="#444" stroke-width="0.7"/>
<text x="390.8" y="104.0" font-size="7.9" text-anchor="middle" textLength="8.8" lengthAdjust="spacingAndGlyphs">1.5</text>
<line x1="398" y1="145.3" x2="402" y2="145.3" stroke="#444" stroke-width="0.7"/>
<text x="390.8" y="148.10000000000002" font-size="7.9" text-anchor="middle">1</text>
<line x1="398" y1="183.4" x2="402" y2="183.4" stroke="#444" stroke-width="0.7"/>
<text x="390.8" y="186.20000000000002" font-size="7.9" text-anchor="middle" textLength="8.8" lengthAdjust="spacingAndGlyphs">1.5</text>
<line x1="398" y1="225.4" x2="402" y2="225.4" stroke="#444" stroke-width="0.7"/>
<text x="390.8" y="228.20000000000002" font-size="7.9" text-anchor="middle">0</text>
<line x1="402" y1="226" x2="402" y2="229.5" stroke="#444" stroke-width="0.7"/>
<text x="400.8" y="239.8" font-size="7.9" text-anchor="middle">-1</text>
<line x1="482.3" y1="226" x2="482.3" y2="229.5" stroke="#444" stroke-width="0.7"/>
<text x="481.90000000000003" y="239.8" font-size="7.9" text-anchor="middle">0</text>
<line x1="562.5" y1="226" x2="562.5" y2="229.5" stroke="#444" stroke-width="0.7"/>
<text x="562.1" y="239.8" font-size="7.9" text-anchor="middle">1</text>
<line x1="642.8" y1="226" x2="642.8" y2="229.5" stroke="#444" stroke-width="0.7"/>
<text x="642.4" y="239.8" font-size="7.9" text-anchor="middle">2</text>
<text transform="translate(377.2,145.8) rotate(-90)" font-size="7.75" text-anchor="middle">Height /m</text>
<text x="522.8" y="250.7" font-size="7.8" text-anchor="middle">Runout /m</text>
</g>
<g id="pd" transform="translate(0,235)">
<clipPath id="regpd"><path d="M482.5,144.8 L484.8,139.7 L487.1,137.6 L489.4,135.6 L491.7,134.5 L494.0,132.8 L496.3,131.0 L498.6,129.8 L500.9,127.8 L503.2,126.9 L505.5,125.4 L507.8,124.2 L510.1,123.2 L512.4,122.4 L514.7,120.6 L517.0,119.5 L519.3,118.7 L521.6,117.9 L523.9,116.4 L526.2,115.3 L528.5,115.1 L530.8,113.6 L533.1,113.6 L535.4,112.4 L537.7,111.6 L540.0,110.9 L542.3,110.3 L544.6,110.1 L546.9,108.9 L549.2,108.7 L551.5,108.1 L553.8,107.2 L556.1,106.7 L558.4,105.6 L560.7,105.1 L563.0,104.7 L565.3,104.6 L567.6,103.8 L569.9,103.2 L572.2,103.0 L574.5,102.3 L576.8,101.7 L579.1,101.9 L581.4,101.5 L583.7,100.8 L586.0,100.8 L588.3,100.5 L590.6,100.5 L592.9,100.1 L595.2,99.4 L597.5,99.7 L599.8,98.6 L602.1,98.5 L604.4,98.5 L606.7,97.6 L609.0,97.5 L611.3,96.8 L613.6,97.1 L615.9,96.9 L618.2,96.4 L620.5,96.4 L622.8,95.6 L625.1,95.6 L627.4,95.3 L629.7,95.1 L632.0,94.8 L634.3,95.0 L636.6,95.0 L638.9,94.4 L641.2,94.5 L643.0,94.2 L643,63 L402,63 L402,226 L482.5,226 Z"/></clipPath>
<g clip-path="url(#clipC)">
<rect x="402" y="63" width="241" height="163" fill="url(#grid)"/>
<g clip-path="url(#regpd)">
<rect x="402" y="63" width="241" height="163" fill="#f5aa2e"/>
<path d="M402,63 L503.8,63 L502,90 L500.4,106 Q500.6,110 506,110.5 L545,112 L545,150 L402,150 Z" fill="#f0dc34"/>
<path d="M402,63 L485,63 L484.6,100 Q484.5,118 487,124 Q490,131 497,134 L482.6,146 L402,146 Z" fill="#f4f838"/>
<path d="M402.0,85.4 C406.3,87.2 419.2,91.8 427.7,96.5 C436.2,101.2 445.7,107.8 453.1,113.9 C460.5,120.0 467.2,127.8 472.1,133.0 C477.0,138.2 480.9,143.0 482.6,145.0 L482.6,226 L402,226 L402,85.4 Z" fill="#ccf844" stroke="#ccf844" stroke-width="0.5" stroke-linejoin="round"/>
<path d="M402.0,133.0 C406.3,132.5 420.2,130.2 427.7,130.0 C435.1,129.8 440.3,130.1 446.7,131.5 C453.1,132.9 459.8,136.4 465.8,138.7 C471.8,140.9 479.8,143.9 482.6,145.0 L482.6,226 L402,226 L402,133 Z" fill="#9cf47c" stroke="#9cf47c" stroke-width="0.5" stroke-linejoin="round"/>
<path d="M402.0,154.0 C403.3,152.8 406.2,148.9 410.0,146.5 C413.8,144.1 419.5,141.3 425.0,139.5 C430.5,137.7 437.3,135.7 443.0,135.5 C448.7,135.3 454.0,137.1 459.4,138.3 C464.8,139.5 471.4,141.4 475.3,142.5 C479.2,143.6 481.4,144.6 482.6,145.0 L482.6,226 L402,226 L402,154 Z" fill="#7cf0c4" stroke="#7cf0c4" stroke-width="0.5" stroke-linejoin="round"/>
<path d="M402.0,179.0 C403.2,177.6 406.2,173.5 409.4,170.4 C412.6,167.3 416.4,163.8 421.2,160.3 C426.0,156.8 432.9,152.2 438.0,149.4 C443.1,146.6 447.3,144.6 452.0,143.5 C456.7,142.4 462.0,142.7 466.0,142.8 C470.0,142.9 473.2,143.6 476.0,144.0 C478.8,144.4 481.5,144.8 482.6,145.0 L482.6,226 L402,226 L402,179 Z" fill="#54b8f4" stroke="#54b8f4" stroke-width="0.5" stroke-linejoin="round"/>
<path d="M418.0,226.0 C417.3,223.7 415.0,215.8 414.0,212.0 C413.0,208.2 412.0,206.3 412.0,203.0 C412.0,199.7 412.5,195.8 414.0,192.0 C415.5,188.2 418.0,184.4 421.2,180.5 C424.4,176.6 428.8,172.5 433.0,168.7 C437.2,164.9 442.2,160.8 446.4,157.8 C450.6,154.9 454.1,152.8 458.0,151.0 C461.9,149.2 466.7,147.9 470.0,147.0 C473.3,146.1 475.9,145.8 478.0,145.5 C480.1,145.2 481.8,145.1 482.6,145.0 L482.6,226 Z" fill="#4488f4" stroke="#4488f4" stroke-width="0.5" stroke-linejoin="round"/>
<path d="M430.0,226.0 C429.0,223.8 425.2,216.7 424.0,213.0 C422.8,209.3 422.1,207.2 423.0,204.0 C423.9,200.8 426.8,197.7 429.6,194.0 C432.4,190.3 436.4,185.9 439.7,182.0 C443.0,178.1 446.6,173.7 449.7,170.4 C452.8,167.1 455.1,164.7 458.0,162.0 C460.9,159.3 464.0,156.3 467.0,154.0 C470.0,151.7 473.4,149.5 476.0,148.0 C478.6,146.5 481.5,145.5 482.6,145.0 L482.6,226 Z" fill="#3450f0" stroke="#3450f0" stroke-width="0.5" stroke-linejoin="round"/>
<path d="M443.0,226.0 C442.3,223.8 439.5,216.7 439.0,213.0 C438.5,209.3 438.8,206.9 440.0,204.0 C441.2,201.1 443.7,199.0 446.4,195.6 C449.1,192.2 453.2,187.7 456.0,183.8 C458.8,179.9 460.7,176.0 463.0,172.0 C465.3,168.0 467.5,163.8 470.0,160.0 C472.5,156.2 475.9,151.5 478.0,149.0 C480.1,146.5 481.8,145.7 482.6,145.0 L482.6,226 Z" fill="#1c14f0" stroke="#1c14f0" stroke-width="0.5" stroke-linejoin="round"/>
<path d="M456.0,226.0 C455.8,223.7 454.8,216.3 455.0,212.0 C455.2,207.7 456.0,204.0 457.0,200.0 C458.0,196.0 459.2,192.3 461.0,188.0 C462.8,183.7 465.1,178.8 467.5,174.0 C469.9,169.2 473.0,163.1 475.2,159.0 C477.4,154.9 479.3,151.8 480.5,149.5 C481.7,147.2 482.2,145.8 482.6,145.0 L482.6,226 Z" fill="#1808c0" stroke="#1808c0" stroke-width="0.5" stroke-linejoin="round"/>
<rect x="459" y="223" width="3" height="3" fill="#60e090"/>
<path d="M480.9,156.2h1.2v1.0h-1.2zM474.9,158.3h1.1v0.9h-1.1zM475.9,158.0h0.7v0.8h-0.7zM477.5,158.0h1.0v1.0h-1.0zM478.1,159.9h1.2v1.0h-1.2zM474.8,161.1h1.2v0.9h-1.2zM479.2,161.4h1.0v1.1h-1.0zM473.1,163.0h0.9v0.7h-0.9zM479.2,162.6h0.7v1.0h-0.7zM481.0,162.8h0.8v1.0h-0.8zM471.5,164.2h1.0v0.8h-1.0zM476.5,165.8h0.9v1.0h-0.9zM480.8,166.0h0.8v0.9h-0.8zM479.2,167.8h1.2v0.8h-1.2zM481.1,167.9h0.8v1.1h-0.8zM472.7,169.5h0.8v1.0h-0.8zM474.8,169.3h0.9v0.8h-0.9zM477.6,169.2h1.2v0.9h-1.2zM467.9,170.7h1.0v0.7h-1.0zM469.7,170.8h0.8v0.8h-0.8zM479.1,170.5h1.2v1.0h-1.2zM466.7,172.4h1.1v0.8h-1.1zM469.8,172.5h1.2v1.0h-1.2zM476.3,172.6h1.2v0.9h-1.2zM473.1,174.3h1.2v1.0h-1.2zM474.7,174.0h1.0v1.0h-1.0zM476.4,173.7h1.1v0.9h-1.1zM477.9,174.0h1.1v1.1h-1.1zM479.1,173.9h1.1v0.8h-1.1zM481.2,174.1h1.0v1.1h-1.0zM468.2,175.8h1.2v1.1h-1.2zM472.8,175.6h1.2v1.0h-1.2zM477.6,175.6h0.9v0.8h-0.9zM472.7,177.4h0.7v1.0h-0.7zM476.4,176.9h0.8v0.9h-0.8zM478.0,177.0h0.8v0.7h-0.8zM471.4,178.6h0.7v0.9h-0.7zM474.5,178.7h1.1v0.9h-1.1zM465.3,180.5h0.8v0.9h-0.8zM469.8,180.6h1.2v1.1h-1.2zM474.7,180.6h1.1v1.0h-1.1zM476.4,180.7h1.3v0.9h-1.3zM465.0,182.0h1.2v0.9h-1.2zM466.8,181.7h1.2v0.8h-1.2zM468.4,181.8h0.8v0.9h-0.8zM479.2,182.0h0.9v1.0h-0.9zM466.5,183.8h1.2v0.8h-1.2zM474.6,183.6h1.1v0.7h-1.1zM465.0,185.1h1.3v1.1h-1.3zM466.6,185.0h1.0v1.0h-1.0zM471.2,185.3h1.3v0.8h-1.3zM474.4,185.0h1.1v0.8h-1.1zM476.3,185.0h1.1v0.7h-1.1zM479.2,185.2h1.0v0.9h-1.0zM461.6,186.9h1.1v0.9h-1.1zM468.3,187.0h1.2v0.8h-1.2zM470.1,186.6h1.3v1.1h-1.3zM471.2,186.9h0.9v0.7h-0.9zM474.8,186.6h0.9v1.0h-0.9zM476.0,186.9h1.2v1.1h-1.2zM477.8,187.0h1.0v1.0h-1.0zM479.1,186.6h0.7v0.9h-0.7zM460.0,188.2h1.2v1.1h-1.2zM463.1,188.7h1.0v1.0h-1.0zM465.0,188.4h1.0v0.9h-1.0zM466.7,188.6h0.8v0.9h-0.8zM469.6,188.2h1.0v0.7h-1.0zM463.6,190.1h1.2v1.0h-1.2zM465.2,190.2h1.1v1.0h-1.1zM468.3,189.7h0.9v0.9h-0.9zM469.7,190.1h1.1v0.8h-1.1zM474.7,190.0h1.0v0.9h-1.0zM458.7,191.7h0.9v0.9h-0.9zM460.0,191.5h0.8v0.8h-0.8zM474.7,191.8h0.7v1.1h-0.7zM476.2,191.4h1.0v0.9h-1.0zM478.1,191.6h1.0v0.9h-1.0zM479.3,191.7h1.0v0.8h-1.0zM455.1,193.0h0.7v0.8h-0.7zM458.8,193.3h0.7v1.1h-0.7zM462.0,193.2h1.0v1.1h-1.0zM463.4,193.5h1.1v0.9h-1.1zM469.9,193.2h0.8v0.7h-0.8zM473.0,193.3h1.0v0.8h-1.0zM476.4,193.2h1.3v1.1h-1.3zM479.2,193.4h1.2v0.9h-1.2zM480.9,193.3h1.0v0.9h-1.0zM458.4,195.1h1.2v1.1h-1.2zM459.9,194.7h1.0v0.9h-1.0zM461.8,194.5h0.8v1.0h-0.8zM466.6,194.6h0.9v1.0h-0.9zM469.6,195.0h1.1v1.0h-1.1zM471.4,194.7h1.2v0.8h-1.2zM476.2,194.9h1.3v0.9h-1.3zM477.6,195.0h0.7v0.7h-0.7zM455.6,196.1h0.8v1.0h-0.8zM456.9,196.5h1.1v0.8h-1.1zM458.5,196.5h0.9v0.7h-0.9zM468.4,196.3h0.9v0.9h-0.9zM472.9,196.3h0.9v0.9h-0.9zM474.4,196.4h1.2v0.9h-1.2zM479.6,196.6h0.9v0.7h-0.9zM461.8,198.2h0.8v0.7h-0.8zM466.7,197.8h1.1v1.0h-1.1zM468.0,198.2h1.0v1.0h-1.0zM469.7,198.3h1.1v0.9h-1.1zM478.0,198.1h1.2v1.0h-1.2zM460.2,199.4h1.1v1.1h-1.1zM461.6,199.4h1.0v0.8h-1.0zM464.9,199.4h1.1v1.0h-1.1zM466.3,199.6h1.1v1.1h-1.1zM468.0,199.4h0.8v0.8h-0.8zM472.8,199.5h0.8v1.0h-0.8zM474.6,199.8h1.0v0.8h-1.0zM479.4,199.9h1.0v0.8h-1.0zM481.3,199.8h0.9v0.9h-0.9zM454.1,201.3h0.8v0.7h-0.8zM457.2,201.3h1.1v0.8h-1.1zM458.5,201.1h1.2v0.9h-1.2zM463.4,201.0h1.2v0.7h-1.2zM469.7,201.3h0.8v0.9h-0.8zM471.7,201.3h1.2v0.8h-1.2zM474.9,201.0h1.2v0.8h-1.2zM479.6,201.1h0.9v0.7h-0.9zM481.0,201.3h0.9v1.0h-0.9zM450.5,202.8h1.3v1.0h-1.3zM453.7,202.9h0.8v0.9h-0.8zM455.1,203.1h1.2v0.8h-1.2zM458.5,202.8h0.9v0.8h-0.9zM460.3,202.7h0.8v1.0h-0.8zM462.1,202.8h1.1v0.8h-1.1zM464.8,202.6h1.1v1.0h-1.1zM466.5,203.0h1.1v0.7h-1.1zM468.0,202.6h0.9v0.7h-0.9zM471.4,202.9h1.2v1.0h-1.2zM472.9,202.7h0.7v0.9h-0.7zM450.5,204.3h1.1v0.7h-1.1zM452.2,204.6h1.2v0.9h-1.2zM454.0,204.6h1.0v0.8h-1.0zM457.1,204.7h1.0v1.0h-1.0zM460.5,204.5h0.8v0.7h-0.8zM461.8,204.5h0.9v1.1h-0.9zM463.4,204.2h1.3v0.8h-1.3zM466.6,204.4h0.9v1.1h-0.9zM473.2,204.3h1.2v0.8h-1.2zM477.8,204.1h0.7v0.8h-0.7zM450.7,206.1h0.9v0.9h-0.9zM453.6,206.0h0.8v0.9h-0.8zM457.0,205.9h1.0v0.8h-1.0zM460.3,205.8h1.3v0.9h-1.3zM461.7,206.1h1.1v1.0h-1.1zM465.3,206.2h1.2v0.9h-1.2zM466.6,206.2h1.0v0.9h-1.0zM468.4,205.9h0.7v1.0h-0.7zM476.3,205.7h0.8v0.9h-0.8zM479.1,206.1h1.0v0.8h-1.0zM480.9,205.8h0.7v1.1h-0.7zM454.0,207.4h1.1v0.9h-1.1zM457.2,207.4h1.0v1.1h-1.0zM458.4,207.5h0.9v0.7h-0.9zM463.3,207.7h0.7v0.7h-0.7zM466.6,207.9h1.3v0.9h-1.3zM468.1,207.9h1.2v0.8h-1.2zM471.4,207.4h1.2v1.1h-1.2zM473.1,207.4h1.2v0.7h-1.2zM474.7,207.5h1.2v1.0h-1.2zM477.9,207.9h1.0v0.7h-1.0zM479.3,207.7h0.8v0.8h-0.8zM481.1,207.8h0.9v1.0h-0.9zM450.5,209.5h1.1v0.8h-1.1zM454.1,209.2h1.0v0.9h-1.0zM455.5,209.1h0.9v1.0h-0.9zM456.9,209.4h0.8v0.8h-0.8zM458.4,209.4h1.3v0.7h-1.3zM460.4,209.1h1.3v0.9h-1.3zM461.8,209.3h0.9v1.0h-0.9zM465.0,209.4h1.1v0.9h-1.1zM468.4,209.0h1.1v0.8h-1.1zM470.0,209.4h1.2v0.8h-1.2zM471.2,209.2h1.0v0.7h-1.0zM479.2,208.9h1.0v0.9h-1.0zM480.9,209.4h0.7v1.1h-0.7zM452.0,210.7h0.7v0.8h-0.7zM455.3,210.9h0.8v1.0h-0.8zM456.9,210.6h1.1v1.0h-1.1zM460.1,210.7h0.8v1.1h-0.8zM461.8,211.0h1.3v0.8h-1.3zM463.5,210.5h0.8v1.1h-0.8zM464.9,210.7h1.0v0.7h-1.0zM466.9,211.0h1.1v0.8h-1.1zM468.2,210.6h1.0v1.1h-1.0zM469.7,211.1h1.1v0.7h-1.1zM471.5,210.5h0.9v1.0h-0.9zM477.7,211.0h0.9v1.0h-0.9zM479.3,210.6h1.0v0.8h-1.0zM480.8,210.8h0.9v0.9h-0.9zM450.5,212.1h1.1v0.8h-1.1zM451.9,212.2h0.9v0.9h-0.9zM456.9,212.2h1.3v0.8h-1.3zM463.3,212.3h0.7v1.1h-0.7zM465.2,212.4h0.7v0.9h-0.7zM466.3,212.2h1.1v0.7h-1.1zM468.2,212.4h0.8v1.0h-0.8zM469.9,212.5h0.8v0.8h-0.8zM471.5,212.3h0.9v1.0h-0.9zM472.9,212.3h0.8v0.7h-0.8zM474.7,212.4h1.2v1.1h-1.2zM476.3,212.7h0.8v1.0h-0.8zM445.9,213.8h1.0v0.9h-1.0zM447.3,213.9h1.0v0.8h-1.0zM448.9,214.0h0.8v1.0h-0.8zM450.4,213.9h1.0v0.8h-1.0zM455.5,213.7h0.9v0.8h-0.9zM456.9,213.7h1.0v0.9h-1.0zM458.5,213.9h0.7v0.8h-0.7zM461.7,214.1h0.8v0.9h-0.8zM463.7,213.9h1.0v1.1h-1.0zM466.7,213.9h0.9v0.8h-0.9zM471.6,213.7h0.8v0.9h-0.8zM472.9,214.3h0.8v0.8h-0.8zM474.7,213.8h0.7v0.9h-0.7zM476.0,214.0h1.1v0.9h-1.1zM445.7,215.8h0.9v1.0h-0.9zM453.9,215.6h1.0v0.8h-1.0zM455.5,215.6h0.8v0.8h-0.8zM456.8,215.6h0.8v0.7h-0.8zM458.4,215.7h0.8v0.9h-0.8zM461.6,215.8h1.2v0.7h-1.2zM463.4,215.8h0.9v1.0h-0.9zM465.1,215.5h0.9v1.0h-0.9zM469.8,215.7h1.1v1.0h-1.1zM472.9,215.7h0.8v0.8h-0.8zM474.7,215.9h1.3v0.8h-1.3zM477.9,215.5h1.3v1.1h-1.3zM479.5,215.4h0.7v0.8h-0.7zM445.7,216.9h1.0v0.9h-1.0zM447.3,217.4h1.2v0.8h-1.2zM449.1,217.4h1.3v0.9h-1.3zM452.4,217.0h0.8v0.7h-0.8zM455.4,217.0h0.9v0.7h-0.9zM456.8,217.3h0.9v0.8h-0.9zM458.5,217.1h0.7v0.7h-0.7zM461.5,217.0h1.0v1.1h-1.0zM463.6,217.2h0.9v1.0h-0.9zM464.7,217.2h1.1v0.9h-1.1zM466.9,217.4h1.3v0.9h-1.3zM471.1,217.0h0.8v0.7h-0.8zM473.2,217.1h1.0v0.7h-1.0zM474.9,216.9h1.0v1.0h-1.0zM479.6,217.4h1.2v1.1h-1.2zM481.3,217.1h1.1v0.8h-1.1zM444.2,218.6h0.9v0.8h-0.9zM449.1,218.7h0.9v1.1h-0.9zM450.4,218.7h1.1v0.8h-1.1zM453.9,218.6h0.8v0.8h-0.8zM455.4,218.5h1.0v0.9h-1.0zM457.0,219.1h0.8v1.1h-0.8zM458.8,218.6h1.3v0.9h-1.3zM461.7,218.9h0.8v0.8h-0.8zM463.7,218.7h0.8v0.8h-0.8zM466.7,218.7h1.1v0.8h-1.1zM468.4,219.0h1.1v0.9h-1.1zM469.6,219.0h1.1v0.9h-1.1zM472.9,218.6h1.1v0.9h-1.1zM474.3,218.9h1.0v0.9h-1.0zM479.4,219.1h1.1v0.8h-1.1zM442.8,220.2h1.3v0.9h-1.3zM444.4,220.5h1.3v1.0h-1.3zM447.7,220.1h1.2v1.0h-1.2zM449.2,220.4h1.0v1.0h-1.0zM450.5,220.5h0.7v0.9h-0.7zM453.6,220.6h1.2v1.0h-1.2zM455.6,220.6h0.8v0.8h-0.8zM456.7,220.3h1.2v1.0h-1.2zM458.4,220.3h1.2v0.9h-1.2zM462.1,220.2h1.1v1.1h-1.1zM465.1,220.4h0.7v0.8h-0.7zM466.7,220.3h1.1v1.0h-1.1zM468.0,220.5h1.0v0.8h-1.0zM470.1,220.5h0.9v0.8h-0.9zM476.1,220.3h0.8v1.0h-0.8zM478.0,220.3h1.0v0.9h-1.0zM481.1,220.2h1.0v0.8h-1.0zM442.8,222.1h1.0v1.1h-1.0zM444.3,222.1h1.0v0.7h-1.0zM445.7,222.0h1.3v0.8h-1.3zM450.5,221.8h1.2v0.8h-1.2zM452.1,222.2h1.2v0.9h-1.2zM453.6,222.2h0.8v0.8h-0.8zM455.5,222.1h0.9v1.1h-0.9zM458.7,222.0h0.9v0.9h-0.9zM460.3,222.1h1.3v1.1h-1.3zM463.6,222.1h1.1v1.1h-1.1zM465.0,221.9h1.1v0.8h-1.1zM468.1,221.8h0.9v1.0h-0.9zM469.6,222.1h1.1v1.0h-1.1zM471.6,222.1h1.2v0.7h-1.2zM472.7,222.2h1.3v1.1h-1.3zM474.5,222.0h1.0v0.7h-1.0zM477.8,221.8h1.0v0.8h-1.0zM479.4,221.9h1.2v0.8h-1.2zM480.7,221.8h1.0v0.9h-1.0zM441.2,223.4h1.2v0.8h-1.2zM444.1,223.7h1.2v1.1h-1.2zM445.5,223.4h1.2v1.0h-1.2zM449.0,223.3h0.8v0.8h-0.8zM452.4,223.3h0.9v0.7h-0.9zM453.6,223.9h0.9v0.9h-0.9zM455.6,223.9h1.0v0.9h-1.0zM458.5,223.7h0.9v0.8h-0.9zM460.2,223.5h1.0v0.9h-1.0zM462.0,223.3h1.0v0.9h-1.0zM463.2,223.4h0.9v0.8h-0.9zM464.8,223.7h1.0v0.7h-1.0zM466.9,223.3h1.1v1.1h-1.1zM468.3,223.5h0.9v0.9h-0.9zM469.7,223.6h1.0v1.0h-1.0zM471.2,223.5h0.9v1.0h-0.9zM473.2,223.5h0.9v1.0h-0.9zM474.9,223.8h0.9v0.8h-0.9zM481.2,223.3h1.1v0.9h-1.1zM444.5,225.4h1.0v0.7h-1.0zM447.5,225.5h1.3v0.7h-1.3zM450.8,225.1h1.0v0.9h-1.0zM452.1,225.3h0.7v0.7h-0.7zM455.4,225.0h0.8v0.8h-0.8zM458.9,225.0h0.9v0.9h-0.9zM462.0,225.2h0.7v0.9h-0.7zM463.5,225.5h1.0v1.0h-1.0zM465.2,225.0h1.1v0.8h-1.1zM466.4,225.1h0.8v0.8h-0.8zM468.2,225.1h1.0v1.0h-1.0zM469.9,225.2h1.3v0.8h-1.3zM472.9,225.3h1.0v0.8h-1.0zM474.8,225.1h1.1v0.9h-1.1zM478.1,225.4h1.0v0.9h-1.0zM479.6,225.0h0.9v1.0h-0.9zM481.1,225.2h1.0v0.8h-1.0z" fill="#fff" opacity="0.92"/>
<path d="M449.8,225.4l1.4,-2.8M448.7,223.0l1.7,-0.8M464.7,220.3l2.9,-1.0M465.5,224.7l0.7,-2.8M457.5,225.4l1.0,-1.8M475.5,222.2l1.7,-1.0M447.6,219.1l1.8,-1.0M458.5,209.4l1.5,-1.4M458.1,213.7l2.2,-2.4M450.5,224.1l0.9,-2.6M464.6,222.3l1.9,-2.1M477.7,222.9l1.4,-0.8M478.5,215.7l0.8,-1.8M462.9,215.8l1.6,-3.0M463.8,219.6l1.6,-1.1M479.0,208.6l0.7,-2.7M447.1,224.7l2.5,-0.8M448.4,225.9l2.7,-1.8M448.1,221.2l1.5,-0.4M464.9,225.8l1.7,-2.7M473.3,218.8l2.4,-0.7M453.2,218.9l2.0,-1.5M452.6,221.8l1.9,-1.6M449.9,218.1l2.2,-2.6M467.6,209.5l1.8,-1.2M469.7,225.2l0.7,-3.3M477.8,224.1l0.4,-1.5M463.2,220.0l1.4,-2.3M466.5,225.1l2.4,-0.8M479.4,204.6l3.1,-1.1M479.3,204.0l3.1,-0.7M470.1,218.7l1.9,-2.4M475.5,200.7l3.0,-0.9M479.6,223.7l1.7,-1.4M463.0,203.2l0.9,-1.8M466.6,218.9l2.3,-1.6M463.7,212.6l0.6,-1.8M454.1,213.1l2.2,-2.1M459.9,212.7l1.1,-1.7M465.7,213.1l0.6,-1.8M456.3,214.3l2.4,-1.7M469.0,223.1l1.1,-1.2M473.2,212.9l2.1,-1.0M480.2,215.8l2.7,-2.0M480.2,216.2l2.9,-1.1M473.6,215.1l0.9,-2.1M456.3,220.0l1.1,-2.2M475.6,203.1l1.6,-1.6M446.8,224.9l1.8,-0.7M476.1,225.5l0.5,-2.1M478.4,209.8l1.7,-3.0M456.7,209.6l1.7,-2.8M470.6,225.3l1.7,-1.5M453.0,213.6l0.4,-1.6M454.4,215.3l2.0,-0.5M456.5,209.1l1.7,-1.9M465.3,222.7l2.3,-2.5M452.3,212.3l2.0,-0.6M471.9,225.0l1.3,-1.3M457.9,219.6l2.6,-1.6M479.6,217.6l1.9,-2.5M464.3,211.4l0.8,-3.4M446.3,222.7l1.2,-1.0M455.3,210.8l0.9,-1.7M450.5,212.2l1.0,-2.3M469.0,217.7l1.4,-0.6M461.2,205.3l2.4,-1.3M459.7,217.9l1.2,-1.7M457.4,224.4l1.5,-1.8M465.3,217.6l2.7,-1.9M452.8,225.2l1.1,-3.1M452.6,218.5l0.4,-2.0M451.6,222.1l2.4,-1.2M450.0,225.3l1.5,-0.9M470.5,215.3l1.6,-1.9M477.9,218.6l1.2,-0.9M464.8,213.5l1.7,-2.1M465.0,207.8l1.7,-1.8M467.5,225.6l2.1,-1.2M448.2,223.3l2.8,-1.5M474.2,213.1l0.7,-2.4M461.2,219.4l0.6,-2.4M464.2,214.0l0.9,-2.3M460.5,211.5l2.8,-1.4M473.4,225.7l0.8,-2.8M473.5,221.9l1.2,-2.9M451.3,223.5l1.7,-1.1M478.3,203.9l1.5,-1.6M473.4,220.3l0.9,-3.2M470.4,206.6l0.9,-1.4" stroke="#fff" stroke-width="0.6" fill="none" stroke-linecap="round" opacity="0.85"/>
<rect x="402" y="63" width="241" height="163" fill="url(#gridc)"/>
</g>
<path d="M483.4,226 L483.4,144.9 L643,144.9" fill="none" stroke="#000" stroke-width="2.5" stroke-linejoin="miter"/>
<path d="M481.9,226 L481.9,146 L482.5,144.8 L484.8,139.7 L487.1,137.6 L489.4,135.6 L491.7,134.5 L494.0,132.8 L496.3,131.0 L498.6,129.8 L500.9,127.8 L503.2,126.9 L505.5,125.4 L507.8,124.2 L510.1,123.2 L512.4,122.4 L514.7,120.6 L517.0,119.5 L519.3,118.7 L521.6,117.9 L523.9,116.4 L526.2,115.3 L528.5,115.1 L530.8,113.6 L533.1,113.6 L535.4,112.4 L537.7,111.6 L540.0,110.9 L542.3,110.3 L544.6,110.1 L546.9,108.9 L549.2,108.7 L551.5,108.1 L553.8,107.2 L556.1,106.7 L558.4,105.6 L560.7,105.1 L563.0,104.7 L565.3,104.6 L567.6,103.8 L569.9,103.2 L572.2,103.0 L574.5,102.3 L576.8,101.7 L579.1,101.9 L581.4,101.5 L583.7,100.8 L586.0,100.8 L588.3,100.5 L590.6,100.5 L592.9,100.1 L595.2,99.4 L597.5,99.7 L599.8,98.6 L602.1,98.5 L604.4,98.5 L606.7,97.6 L609.0,97.5 L611.3,96.8 L613.6,97.1 L615.9,96.9 L618.2,96.4 L620.5,96.4 L622.8,95.6 L625.1,95.6 L627.4,95.3 L629.7,95.1 L632.0,94.8 L634.3,95.0 L636.6,95.0 L638.9,94.4 L641.2,94.5 L643.0,94.2" fill="none" stroke="#e00c0c" stroke-width="1.2" stroke-linejoin="miter"/>
</g>
<line x1="398" y1="63.2" x2="402" y2="63.2" stroke="#444" stroke-width="0.7"/>
<text x="390.8" y="66.0" font-size="7.9" text-anchor="middle">2</text>
<line x1="398" y1="101.2" x2="402" y2="101.2" stroke="#444" stroke-width="0.7"/>
<text x="390.8" y="104.0" font-size="7.9" text-anchor="middle" textLength="8.8" lengthAdjust="spacingAndGlyphs">1.5</text>
<line x1="398" y1="145.3" x2="402" y2="145.3" stroke="#444" stroke-width="0.7"/>
<text x="390.8" y="148.10000000000002" font-size="7.9" text-anchor="middle">1</text>
<line x1="398" y1="183.4" x2="402" y2="183.4" stroke="#444" stroke-width="0.7"/>
<text x="390.8" y="186.20000000000002" font-size="7.9" text-anchor="middle" textLength="8.8" lengthAdjust="spacingAndGlyphs">1.5</text>
<line x1="398" y1="225.4" x2="402" y2="225.4" stroke="#444" stroke-width="0.7"/>
<text x="390.8" y="228.20000000000002" font-size="7.9" text-anchor="middle">0</text>
<line x1="402" y1="226" x2="402" y2="229.5" stroke="#444" stroke-width="0.7"/>
<text x="400.8" y="239.8" font-size="7.9" text-anchor="middle">-1</text>
<line x1="482.3" y1="226" x2="482.3" y2="229.5" stroke="#444" stroke-width="0.7"/>
<text x="481.90000000000003" y="239.8" font-size="7.9" text-anchor="middle">0</text>
<line x1="562.5" y1="226" x2="562.5" y2="229.5" stroke="#444" stroke-width="0.7"/>
<text x="562.1" y="239.8" font-size="7.9" text-anchor="middle">1</text>
<line x1="642.8" y1="226" x2="642.8" y2="229.5" stroke="#444" stroke-width="0.7"/>
<text x="642.4" y="239.8" font-size="7.9" text-anchor="middle">2</text>
<text transform="translate(377.2,145.8) rotate(-90)" font-size="7.75" text-anchor="middle">Height /m</text>
<text x="522.8" y="250.7" font-size="7.8" text-anchor="middle">Runout /m</text>
</g>
<text x="514.5" y="271.1" font-size="13.35" text-anchor="middle">(c) close-up of element-based boundary around mudmat</text>
<text x="521" y="505.7" font-size="13.35" text-anchor="middle">(d) close-up of lattice-based boundary around mudmat</text>
<text x="150.7" y="526.9" font-size="9.5" style="font-family:'Liberation Serif',serif" textLength="383" lengthAdjust="spacing"><tspan font-weight="bold">Fig. 1.</tspan> Tracking of soil boundary for submarine landslide across partially-buried mudmat.</text>
</svg></body></html>
